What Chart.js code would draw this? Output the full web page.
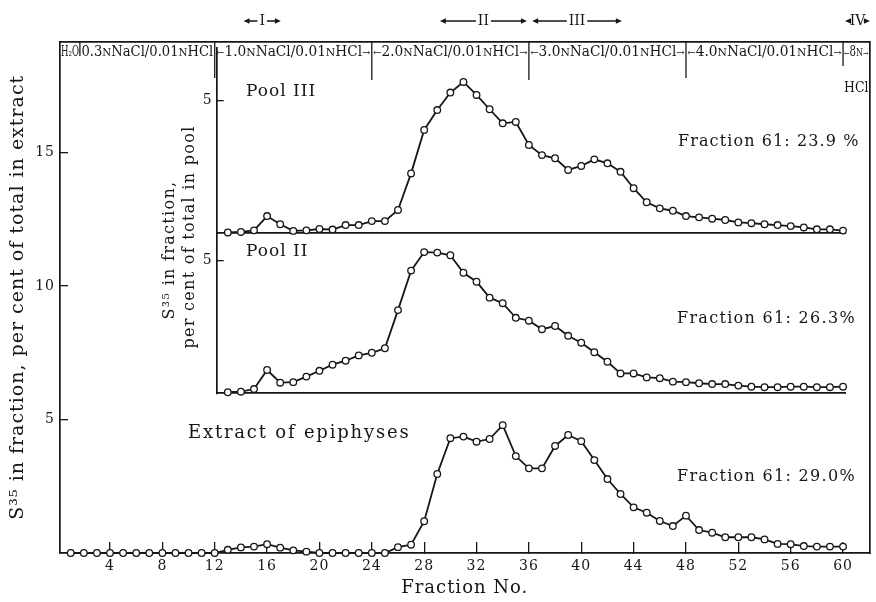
<!DOCTYPE html>
<html>
<head>
<meta charset="utf-8">
<script src="https://cdn.jsdelivr.net/npm/chart.js@4.4.0/dist/chart.umd.min.js"></script>
<style>
  html, body { margin: 0; padding: 0; background: #fff; }
  #wrap { position: relative; width: 876px; height: 602px; }
  #wrap canvas { position: absolute; left: 0; top: 0; }
</style>
</head>
<body>
<div id="wrap">
  <canvas id="main" width="876" height="602"></canvas>
  <canvas id="pool3" width="876" height="602"></canvas>
  <canvas id="pool2" width="876" height="602"></canvas>
</div>
<script>
// fraction numbers and S35 values (per cent)
const fractions = [1, 2, 3, 4, 5, 6, 7, 8, 9, 10, 11, 12, 13, 14, 15, 16, 17, 18, 19, 20,
  21, 22, 23, 24, 25, 26, 27, 28, 29, 30, 31, 32, 33, 34, 35, 36, 37, 38, 39, 40,
  41, 42, 43, 44, 45, 46, 47, 48, 49, 50, 51, 52, 53, 54, 55, 56, 57, 58, 59, 60];

const extractValues = [0, 0, 0, 0, 0, 0, 0, 0, 0, 0, 0, 0,
  0.12, 0.21, 0.24, 0.33, 0.2, 0.1, 0.05, 0, 0, 0, 0, 0, 0, 0.22, 0.31, 1.19, 2.96, 4.30,
  4.36, 4.17, 4.27, 4.79, 3.63, 3.17, 3.17, 4.01, 4.42, 4.19, 3.48, 2.77, 2.21, 1.71, 1.51,
  1.20, 1.01, 1.40, 0.86, 0.76, 0.59, 0.59, 0.59, 0.51, 0.34, 0.33, 0.26, 0.24, 0.24, 0.24];

const poolFractions = fractions.slice(12);

const pool3Values = [0.02, 0.04, 0.1, 0.64, 0.33, 0.08, 0.1, 0.15, 0.13, 0.3, 0.3, 0.45,
  0.45, 0.87, 2.25, 3.89, 4.64, 5.30, 5.70, 5.21, 4.67, 4.14, 4.19, 3.32,
  2.94, 2.82, 2.38, 2.53, 2.78, 2.63, 2.31, 1.69, 1.16, 0.93, 0.84, 0.64,
  0.59, 0.54, 0.49, 0.40, 0.37, 0.33, 0.30, 0.26, 0.21, 0.14, 0.14, 0.09];

const pool2Values = [0.04, 0.06, 0.16, 0.88, 0.40, 0.42, 0.63, 0.85, 1.08, 1.23, 1.43, 1.53,
  1.70, 3.14, 4.63, 5.33, 5.31, 5.21, 4.55, 4.21, 3.61, 3.40, 2.85, 2.74,
  2.42, 2.54, 2.17, 1.91, 1.55, 1.19, 0.75, 0.75, 0.60, 0.57, 0.44, 0.42,
  0.38, 0.35, 0.35, 0.29, 0.25, 0.23, 0.23, 0.25, 0.25, 0.23, 0.23, 0.25];

const xTicks = [4, 8, 12, 16, 20, 24, 28, 32, 36, 40, 44, 48, 52, 56, 60];
const yTicks = [5, 10, 15];
const poolTicks = [5];

// eluting solutions: changes at these fraction numbers
const bufferEdges = [0.18, 1.7, 12, 24, 36, 48, 60, 62.02];
const bufferMolar = ['0.3', '1.0', '2.0', '3.0', '4.0'];
// peaks I-IV (fraction ranges)
const peakNames = ['I', 'II', 'III', 'IV'];
const peakFrom = [14.2, 29.2, 36.25, 60.15];
const peakTo = [17.05, 35.85, 43.1, 62.05];

const W = 876, H = 602;
const black = '#161616';
const SERIF = "'DejaVu Serif', serif";

function pts(xs, ys) {
  return xs.map((x, i) => ({ x: x, y: ys[i] }));
}

const lineStyle = {
  borderColor: black,
  borderWidth: 1.8,
  pointRadius: 3.3,
  pointBorderWidth: 1.3,
  pointBackgroundColor: '#fff',
  pointBorderColor: black,
  tension: 0,
  clip: false
};

function text(ctx, str, x, y, size, opts) {
  opts = opts || {};
  ctx.save();
  ctx.font = size + 'px ' + SERIF;
  ctx.letterSpacing = (opts.spacing !== undefined ? opts.spacing : 1) + 'px';
  ctx.textAlign = opts.align || 'left';
  ctx.textBaseline = 'middle';
  ctx.fillStyle = black;
  ctx.translate(x, y);
  if (opts.rotate) ctx.rotate(opts.rotate);
  ctx.fillText(str, 0, 0);
  ctx.restore();
}

// text made of runs of different size, squeezed to fit maxW
function runs(ctx, parts, cx, baseY, maxW) {
  ctx.save();
  ctx.letterSpacing = '0px';
  ctx.textBaseline = 'alphabetic';
  ctx.fillStyle = black;
  let total = 0;
  const widths = parts.map(p => {
    ctx.font = p[1] + 'px ' + SERIF;
    const w = ctx.measureText(p[0]).width;
    total += w;
    return w;
  });
  const k = Math.min(1, maxW / total);
  ctx.translate(cx - total * k / 2, baseY);
  ctx.scale(k, 1);
  let pos = 0;
  parts.forEach((p, i) => {
    ctx.font = p[1] + 'px ' + SERIF;
    ctx.fillText(p[0], pos, 0);
    pos += widths[i];
  });
  ctx.restore();
}

function arrowSpan(ctx, x1, x2, y, label) {
  ctx.save();
  ctx.font = '14px ' + SERIF;
  ctx.letterSpacing = '0px';
  ctx.fillStyle = black;
  ctx.strokeStyle = black;
  ctx.textAlign = 'center';
  ctx.textBaseline = 'middle';
  const w = ctx.measureText(label).width;
  const cx = (x1 + x2) / 2;
  ctx.fillText(label, cx, y);
  ctx.lineWidth = 1.3;
  ctx.beginPath();
  ctx.moveTo(x1 + 3, y); ctx.lineTo(cx - w / 2 - 2, y);
  ctx.moveTo(cx + w / 2 + 2, y); ctx.lineTo(x2 - 3, y);
  ctx.stroke();
  ctx.beginPath();
  ctx.moveTo(x1, y); ctx.lineTo(x1 + 6, y - 2.7); ctx.lineTo(x1 + 6, y + 2.7); ctx.closePath();
  ctx.moveTo(x2, y); ctx.lineTo(x2 - 6, y - 2.7); ctx.lineTo(x2 - 6, y + 2.7); ctx.closePath();
  ctx.fill();
  ctx.restore();
}

const annotations = {
  id: 'annotations',
  beforeDraw(chart) {
    chart.ctx.letterSpacing = '1px';
  },
  afterDraw(chart) {
    const ctx = chart.ctx;
    const x = chart.scales.x;
    const top = chart.chartArea.top;

    // dividers between eluting solutions
    const divBottom = [56, 78, 80, 80, 78, 66];
    ctx.save();
    ctx.strokeStyle = black;
    ctx.lineWidth = 1.3;
    for (let i = 1; i < bufferEdges.length - 1; i++) {
      const px = x.getPixelForValue(bufferEdges[i]);
      ctx.beginPath();
      ctx.moveTo(px, top);
      ctx.lineTo(px, divBottom[i - 1]);
      ctx.stroke();
    }
    ctx.restore();

    // eluting solution labels
    const base = 56;
    const seg = i => [x.getPixelForValue(bufferEdges[i]), x.getPixelForValue(bufferEdges[i + 1])];
    let s = seg(0);
    runs(ctx, [['H₂O', 14]], (s[0] + s[1]) / 2, base, s[1] - s[0] - 2);
    bufferMolar.forEach((m, j) => {
      const parts = [[m, 14], ['N', 11], ['NaCl/0.01', 14], ['N', 11], ['HCl', 14]];
      if (j > 0) { parts.unshift(['←', 10]); parts.push(['→', 10]); }
      s = seg(j + 1);
      runs(ctx, parts, (s[0] + s[1]) / 2, base, s[1] - s[0] - 3);
    });
    s = seg(6);
    runs(ctx, [['←', 9], ['8', 14], ['N', 11], ['→', 9]], (s[0] + s[1]) / 2, base, s[1] - s[0] - 2);
    runs(ctx, [['HCl', 14]], (s[0] + s[1]) / 2, 92, s[1] - s[0] - 2);

    // peak ranges above the frame
    peakNames.forEach((n, i) => {
      arrowSpan(ctx, x.getPixelForValue(peakFrom[i]), x.getPixelForValue(peakTo[i]), 21, n);
    });

    // panel labels
    text(ctx, 'Pool III', 246, 92, 17);
    text(ctx, 'Pool II', 246, 252, 17);
    text(ctx, 'Extract of epiphyses', 188, 433, 18, { spacing: 1.8 });
    text(ctx, 'Fraction 61: 23.9 %', 678, 142, 16, { spacing: 1.1 });
    text(ctx, 'Fraction 61: 26.3%', 677, 319, 16, { spacing: 1.3 });
    text(ctx, 'Fraction 61: 29.0%', 677, 477, 16, { spacing: 1.3 });

    // inset y title
    text(ctx, 'S³⁵ in fraction,', 170, 250, 16, { align: 'center', rotate: -Math.PI / 2, spacing: 1.3 });
    text(ctx, 'per cent of total in pool', 190, 237, 16, { align: 'center', rotate: -Math.PI / 2, spacing: 1.3 });
  }
};

new Chart(document.getElementById('main'), {
  type: 'line',
  data: {
    datasets: [Object.assign({ data: pts(fractions, extractValues) }, lineStyle)]
  },
  options: {
    responsive: false,
    animation: false,
    events: [],
    layout: { padding: 0 },
    plugins: { legend: { display: false }, tooltip: { enabled: false } },
    scales: {
      x: {
        type: 'linear', position: 'bottom', min: 0.18, max: 62.02,
        afterFit: s => { s.height = 49; },
        afterBuildTicks: s => { s.ticks = xTicks.map(v => ({ value: v })); },
        grid: { drawOnChartArea: false, color: black, lineWidth: 1.3, tickLength: -11 },
        border: { color: black, width: 1.7 },
        ticks: { color: black, autoSkip: false, maxRotation: 0, padding: 15.6, font: { family: SERIF, size: 14 } },
        title: {
          display: true, text: 'Fraction No.', color: black,
          font: { family: SERIF, size: 18 }, padding: { top: 0, bottom: 3.2 }
        }
      },
      y: {
        type: 'linear', position: 'left', min: 0, max: 19.16,
        afterFit: s => { s.width = 60; },
        afterBuildTicks: s => { s.ticks = yTicks.map(v => ({ value: v })); },
        grid: { drawOnChartArea: false, color: black, lineWidth: 1.3, tickLength: -8 },
        border: { color: black, width: 1.7 },
        ticks: { color: black, padding: 13, font: { family: SERIF, size: 14 } },
        title: {
          display: true, text: 'S³⁵ in fraction, per cent of total in extract', color: black,
          font: { family: SERIF, size: 19 }, padding: { top: 6.6, bottom: 0 }
        }
      },
      xTop: {
        type: 'linear', position: 'top',
        afterFit: s => { s.height = 41.5; },
        ticks: { display: false }, grid: { display: false },
        border: { color: black, width: 1.7 }
      },
      yRight: {
        type: 'linear', position: 'right',
        afterFit: s => { s.width = 6.5; },
        ticks: { display: false }, grid: { display: false },
        border: { color: black, width: 1.7 }
      }
    }
  },
  plugins: [annotations]
});

function makeInset(id, values, yMax, top, bottom) {
  const left = 216.7, right = 845, axisW = 40;
  return new Chart(document.getElementById(id), {
    type: 'line',
    data: {
      datasets: [Object.assign({ data: pts(poolFractions, values) }, lineStyle)]
    },
    options: {
      responsive: false,
      animation: false,
      events: [],
      layout: { padding: { left: left - axisW, top: top, right: W - right, bottom: H - bottom } },
      plugins: { legend: { display: false }, tooltip: { enabled: false } },
      scales: {
        x: {
          type: 'linear', min: 12.15, max: 60.15,
          afterFit: s => { s.height = 0; },
          ticks: { display: false }, grid: { display: false },
          border: { color: black, width: 1.7 }
        },
        y: {
          type: 'linear', min: 0, max: yMax,
          afterFit: s => { s.width = axisW; },
          afterBuildTicks: s => { s.ticks = poolTicks.map(v => ({ value: v })); },
          grid: { drawOnChartArea: false, color: black, lineWidth: 1.3, tickLength: -7 },
          border: { color: black, width: 1.7 },
          ticks: { color: black, padding: 12, font: { family: SERIF, size: 14 } }
        }
      }
    }
  });
}

makeInset('pool3', pool3Values, 7, 47.5, 233);
makeInset('pool2', pool2Values, 6.05, 233, 393.3);
</script>
</body>
</html>
